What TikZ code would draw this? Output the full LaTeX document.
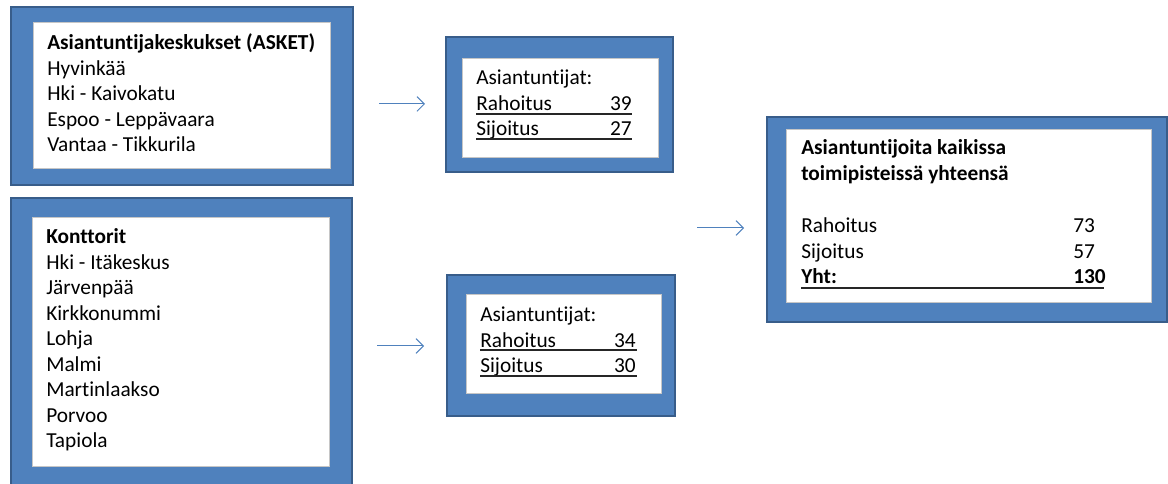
\documentclass[tikz,border=0pt]{standalone}
\usepackage{fontspec}
\setmainfont{Carlito}[Ligatures=NoCommon]
\usetikzlibrary{fit,arrows.meta}
\definecolor{boxblue}{HTML}{4F81BD}
\definecolor{boxedge}{HTML}{385D8A}
\tikzset{
  outerbox/.style={draw=boxedge, fill=boxblue, line width=1.5pt, inner sep=0pt},
  innerbox/.style={draw=gray!45, fill=white, line width=0.6pt, inner sep=0pt},
  txt/.style={anchor=base west, inner sep=0pt, font=\fontsize{16}{19}\selectfont},
  num/.style={anchor=base east, inner sep=0pt, font=\fontsize{16}{19}\selectfont},
  uline/.style={line width=1pt, black!85},
  flow/.style={draw=boxblue, line width=0.75pt, -{Straight Barb[length=5.5pt,width=11pt]}}
}
\begin{document}
\begin{tikzpicture}[x=0.75pt, y=-0.75pt]
    \useasboundingbox (0,0) rectangle (1168,484);

    % frames
    \node[outerbox, fit={(11,7) (353,185)}] (asket) {};
    \node[innerbox, fit={(33,22) (330,168)}] (asketin) {};
    \node[outerbox, fit={(11,198) (352,495)}] (kont) {};
    \node[innerbox, fit={(32,217) (329,466)}] (kontin) {};
    \node[outerbox, fit={(446,37) (673,172)}] (asum) {};
    \node[innerbox, fit={(462,58) (658,157)}] (asumin) {};
    \node[outerbox, fit={(447,275) (675,416)}] (ksum) {};
    \node[innerbox, fit={(466,294) (661,393)}] (ksumin) {};
    \node[outerbox, fit={(767,117) (1167,322)}] (total) {};
    \node[innerbox, fit={(786,129) (1151,302)}] (totalin) {};

    % ASKET
    \node[txt, font=\fontsize{16}{19}\selectfont\bfseries] (asket0) at (47,50) {Asiantuntijakeskukset (ASKET)};
    \foreach \i\j in {1/Hyvinkää,2/Hki - Kaivokatu,3/Espoo - Leppävaara,4/Vantaa - Tikkurila}{
      \node[txt] (asket\i) at (47,50+25.5*\i) {\j};
    }

    % Konttorit
    \node[txt, font=\fontsize{16}{19}\selectfont\bfseries] (kont0) at (46,244) {Konttorit};
    \foreach \i\j in {1/Hki - Itäkeskus,2/Järvenpää,3/Kirkkonummi,4/Lohja,5/Malmi,6/Martinlaakso,7/Porvoo,8/Tapiola}{
      \node[txt] (kont\i) at (46,244+25.5*\i) {\j};
    }

    % sums
    \node[txt] (asum0) at (476,85) {Asiantuntijat:};
    \foreach \i\j\k in {1/Rahoitus/39,2/Sijoitus/27}{
      \node[txt] (asum\i) at (476,85+25.5*\i) {\j};
      \node[num] (asumn\i) at (632,85+25.5*\i) {\k};
    }
    \draw[uline] (476,114) -- (632,114);
    \draw[uline] (476,139) -- (632,139);

    \node[txt] (ksum0) at (480,322) {Asiantuntijat:};
    \foreach \i\j\k in {1/Rahoitus/34,2/Sijoitus/30}{
      \node[txt] (ksum\i) at (480,322+25.5*\i) {\j};
      \node[num] (ksumn\i) at (636,322+25.5*\i) {\k};
    }
    \draw[uline] (480,350) -- (637,350);
    \draw[uline] (480,376) -- (637,376);

    % total
    \node[txt, font=\fontsize{16}{19}\selectfont\bfseries] (total0) at (801,155) {Asiantuntijoita kaikissa};
    \node[txt, font=\fontsize{16}{19}\selectfont\bfseries] (total1) at (801,181) {toimipisteissä yhteensä};
    \foreach \i\j\k in {0/Rahoitus/73,1/Sijoitus/57}{
      \node[txt] (totr\i) at (801,233+25.5*\i) {\j};
      \node[txt] (totn\i) at (1073,233+25.5*\i) {\k};
    }
    \node[txt, font=\fontsize{16}{19}\selectfont\bfseries] (totr2) at (801,284) {Yht:};
    \node[txt, font=\fontsize{16}{19}\selectfont\bfseries] (totn2) at (1073,284) {130};
    \draw[uline] (801,288) -- (1104,288);

    % arrows
    \coordinate (a1s) at (379,104);
    \coordinate (a1e) at (425,104);
    \coordinate (a2s) at (377,346);
    \coordinate (a2e) at (424,346);
    \coordinate (a3s) at (697,228);
    \coordinate (a3e) at (744,228);
    \foreach \i in {1,2,3}{
      \draw[flow] (a\i s) -- (a\i e);
    }

\end{tikzpicture}
\end{document}
